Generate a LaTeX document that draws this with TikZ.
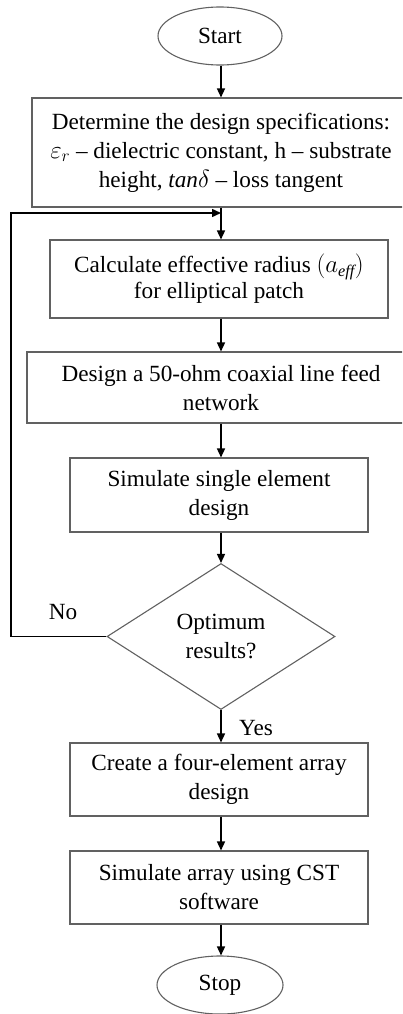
\documentclass[tikz,border=0pt]{standalone}
\usepackage{fontspec}
\setmainfont{Liberation Serif}
\usetikzlibrary{shapes.geometric,arrows.meta}

\tikzset{
  base/.style={draw=black!62, line width=1.1pt, align=center, inner sep=0pt,
               font=\fontsize{23.2}{29}\selectfont},
  procbox/.style={base, rectangle},
  terminal/.style={base, ellipse, minimum width=124pt, minimum height=58pt},
  decision/.style={base, diamond, minimum width=228pt, minimum height=146pt},
  flow/.style={line width=1.5pt, draw=black, -{Triangle[length=9pt,width=8pt]}},
  lbl/.style={font=\fontsize{23.2}{29}\selectfont, inner sep=0pt}
}

\begin{document}
\begin{tikzpicture}[x=1pt, y=-1pt]
  \useasboundingbox (0,0) rectangle (402,1014);
  \clip (0,0) rectangle (402,1014);

  % terminals, process steps and the decision
  \node[terminal] (start) at (220,36) {Start};
  \node[procbox, minimum width=378pt, minimum height=109pt] (spec) at (221,152.5)
    {Determine the design specifications:\\
     $\varepsilon_r$ -- dielectric constant, h -- substrate\\
     height, $\mathit{tan}\delta$ -- loss tangent};
  \node[procbox, minimum width=338pt, minimum height=78pt] (radius) at (219,279)
    {Calculate effective radius $\Bigl(a_{\mathit{eff}}\Bigr)$\\[-3pt] for elliptical patch};
  \node[procbox, minimum width=388pt, minimum height=71pt] (feed) at (221,387.5)
    {Design a 50-ohm coaxial line feed\\ network};
  \node[procbox, minimum width=298pt, minimum height=74pt] (single) at (219,495)
    {Simulate single element\\ design};
  \node[decision] (opt) at (221,636.5) {Optimum\\ results?};
  \node[procbox, minimum width=298pt, minimum height=73pt] (array) at (219,779.5)
    {Create a four-element array\\ design};
  \node[procbox, minimum width=298pt, minimum height=73pt] (cst) at (219,887.5)
    {Simulate array using CST\\ software};
  \node[terminal, minimum width=126pt] (stop) at (220,985) {Stop};

  % main flow
  \coordinate (join) at (221,213);
  \coordinate (bend1) at (11,636.5);
  \coordinate (bend2) at (11,213);
  \draw[flow] (start.south -| join) -- (spec.north -| join);
  \draw[flow] (spec.south -| join) -- (radius.north -| join);
  \draw[flow] (radius.south -| join) -- (feed.north -| join);
  \draw[flow] (feed.south -| join) -- (single.north -| join);
  \draw[flow] (single.south -| join) -- (opt.north);
  \draw[flow] (opt.south) -- (array.north -| join);
  \draw[flow] (array.south -| join) -- (cst.north -| join);
  \draw[flow] (cst.south -| join) -- (stop.north -| join);

  % feedback loop
  \draw[flow] (opt.west) -- (bend1) -- (bend2) -- (join);

  % branch labels
  \node[lbl] (no) at (63,612) {No};
  \node[lbl] (yes) at (256,728) {Yes};
\end{tikzpicture}
\end{document}
